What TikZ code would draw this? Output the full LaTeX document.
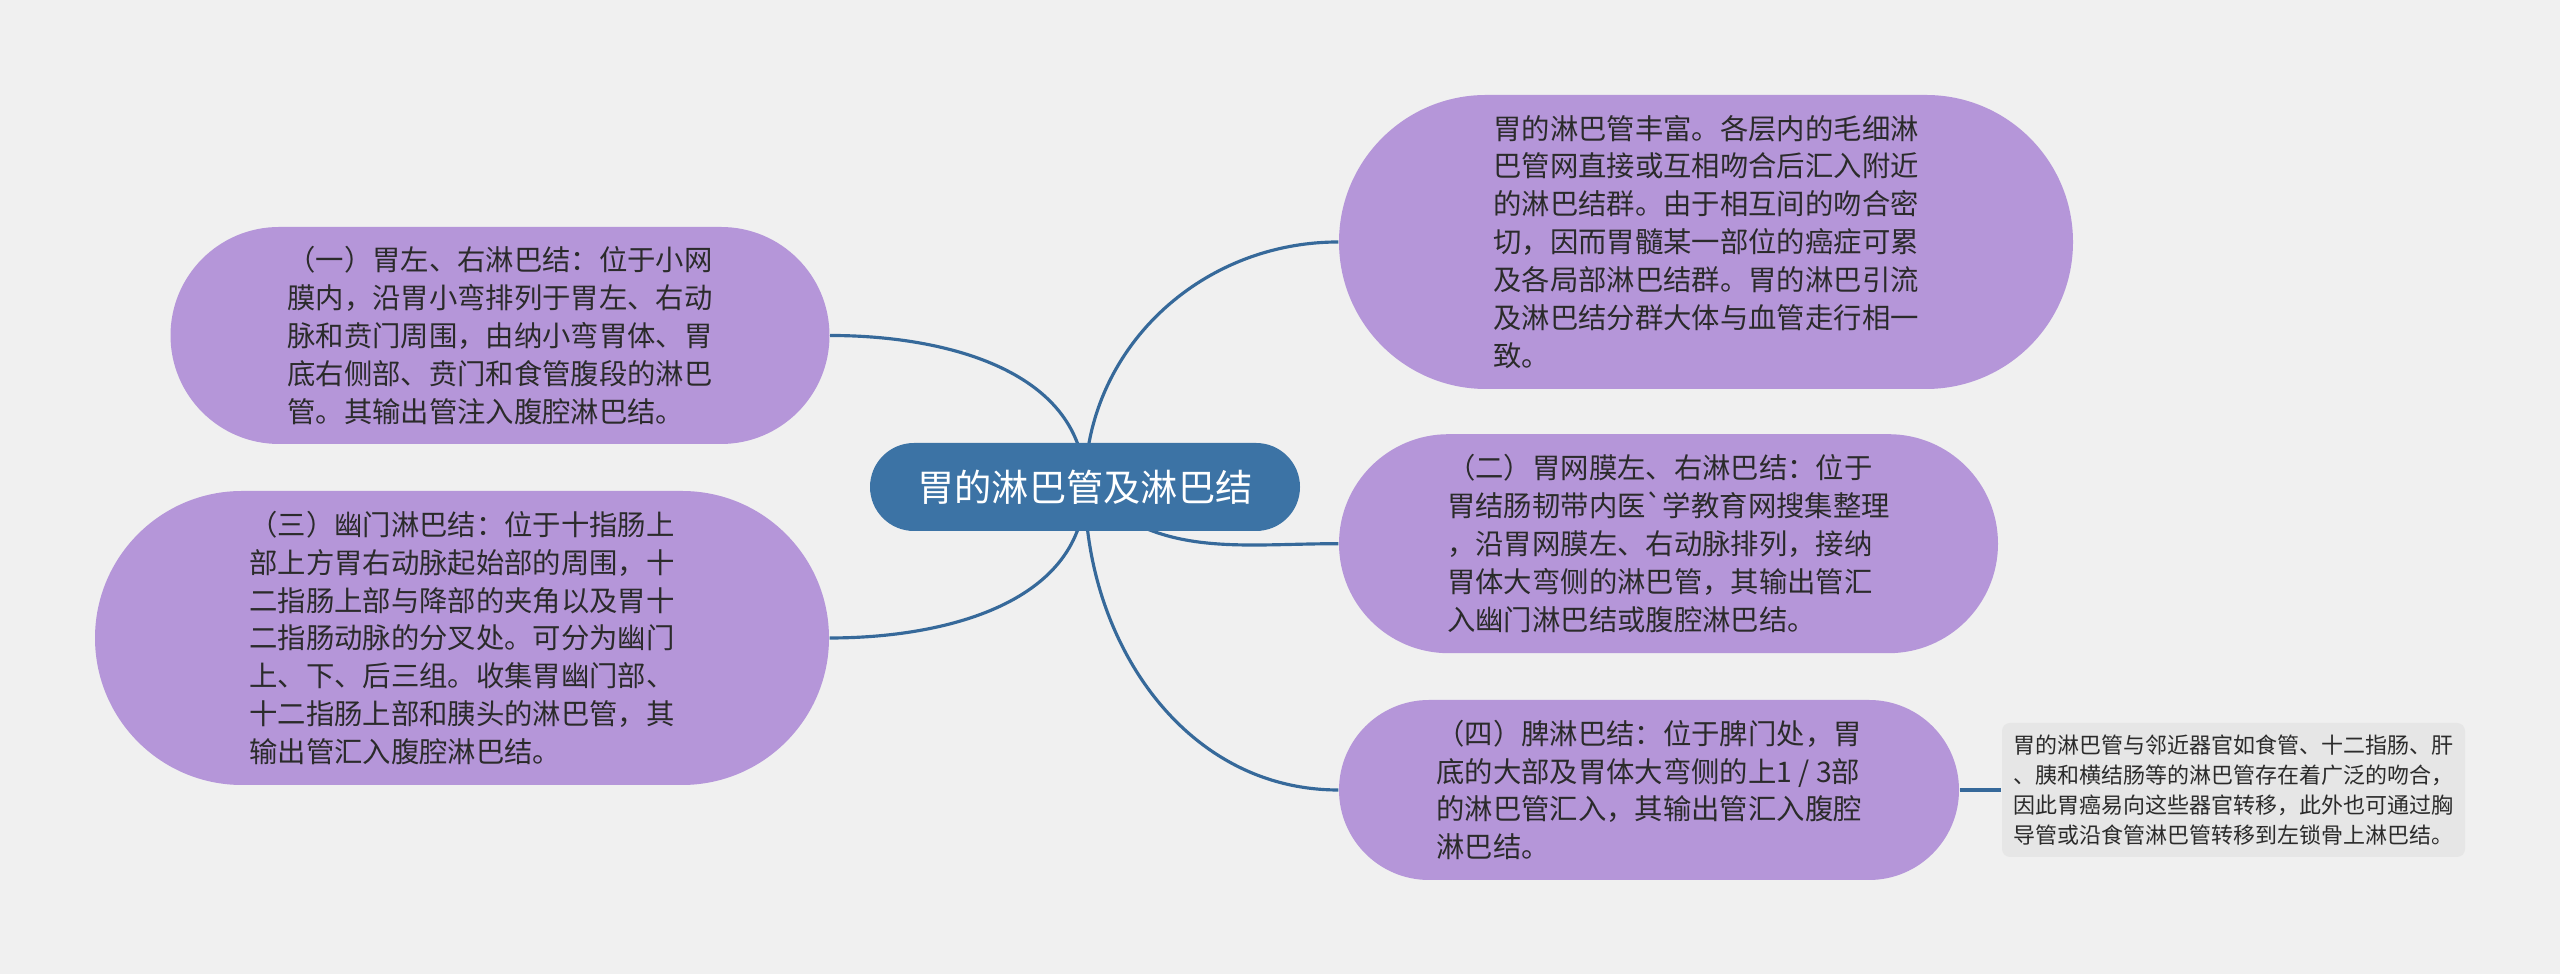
\documentclass[tikz,border=0pt]{standalone}
\usepackage{fontspec}
\newfontfamily\cjk{Noto Sans CJK SC}
\definecolor{bgcol}{HTML}{F0F0F0}
\definecolor{rootcol}{HTML}{3C73A5}
\definecolor{leafcol}{HTML}{B596D9}
\definecolor{linkcol}{HTML}{36699A}
\definecolor{notecol}{HTML}{E6E6E6}
\definecolor{txtcol}{HTML}{2B2B2B}
\pgfdeclarelayer{background}
\pgfsetlayers{background,main}
\begin{document}
\begin{tikzpicture}[
  root/.style={fill=rootcol, rounded corners=4.4mm, minimum width=43mm,
               minimum height=8.8mm, inner sep=0pt, text=white,
               font=\cjk\fontsize{10.6}{13}\selectfont},
  leaf/.style={fill=leafcol, align=left, inner sep=0pt, text=txtcol,
               font=\cjk\fontsize{8.07}{10.8}\selectfont},
  note/.style={fill=notecol, rounded corners=0.8mm, align=left, inner sep=0pt,
               minimum width=46.3mm, minimum height=13.4mm, text=txtcol,
               font=\cjk\fontsize{6.26}{8.5}\selectfont},
  link/.style={draw=linkcol, line width=0.9pt},
]
\useasboundingbox (0,0) rectangle (25.6,-9.74);

\node[root] (root) at (10.85,-4.87) {胃的淋巴管及淋巴结};

\node[leaf, minimum width=73.4mm, minimum height=29.4mm, rounded corners=14.7mm] (tr) at (17.06,-2.42)
  {胃的淋巴管丰富。各层内的毛细淋\\巴管网直接或互相吻合后汇入附近\\的淋巴结群。由于相互间的吻合密\\切，因而胃髓某一部位的癌症可累\\及各局部淋巴结群。胃的淋巴引流\\及淋巴结分群大体与血管走行相一\\致。};
\node[leaf, minimum width=65.9mm, minimum height=21.7mm, rounded corners=10.85mm] (one) at (5.0,-3.355)
  {（一）胃左、右淋巴结：位于小网\\膜内，沿胃小弯排列于胃左、右动\\脉和贲门周围，由纳小弯胃体、胃\\底右侧部、贲门和食管腹段的淋巴\\管。其输出管注入腹腔淋巴结。};
\node[leaf, minimum width=73.4mm, minimum height=29.4mm, rounded corners=14.7mm] (three) at (4.62,-6.38)
  {（三）幽门淋巴结：位于十指肠上\\部上方胃右动脉起始部的周围，十\\二指肠上部与降部的夹角以及胃十\\二指肠动脉的分叉处。可分为幽门\\上、下、后三组。收集胃幽门部、\\十二指肠上部和胰头的淋巴管，其\\输出管汇入腹腔淋巴结。};
\node[leaf, minimum width=65.9mm, minimum height=21.9mm, rounded corners=10.95mm] (two) at (16.685,-5.437)
  {（二）胃网膜左、右淋巴结：位于\\胃结肠韧带内医`学教育网搜集整理\\，沿胃网膜左、右动脉排列，接纳\\胃体大弯侧的淋巴管，其输出管汇\\入幽门淋巴结或腹腔淋巴结。};
\node[leaf, minimum width=62mm, minimum height=18mm, rounded corners=9mm] (four) at (16.49,-7.9)
  {（四）脾淋巴结：位于脾门处，胃\\底的大部及胃体大弯侧的上1 / 3部\\的淋巴管汇入，其输出管汇入腹腔\\淋巴结。};
\node[note] (note) at (22.335,-7.9)
  {胃的淋巴管与邻近器官如食管、十二指肠、肝\\、胰和横结肠等的淋巴管存在着广泛的吻合，\\因此胃癌易向这些器官转移，此外也可通过胸\\导管或沿食管淋巴管转移到左锁骨上淋巴结。};

\begin{pgfonlayer}{background}
\fill[bgcol] (0,0) rectangle (25.6,-9.74);
\draw[link] (root.center) to[out=90, in=180] (tr.west);
\draw[link] (root.center) to[out=90, in=0] (one.east);
\draw[link] (root.center) to[out=-45, in=180] (two.west);
\draw[link] (root.center) to[out=-90, in=0] (three.east);
\draw[link] (root.center) to[out=-90, in=180] (four.west);
\end{pgfonlayer}
\draw[link] (four.east) -- (note.west);
\end{tikzpicture}
\end{document}
